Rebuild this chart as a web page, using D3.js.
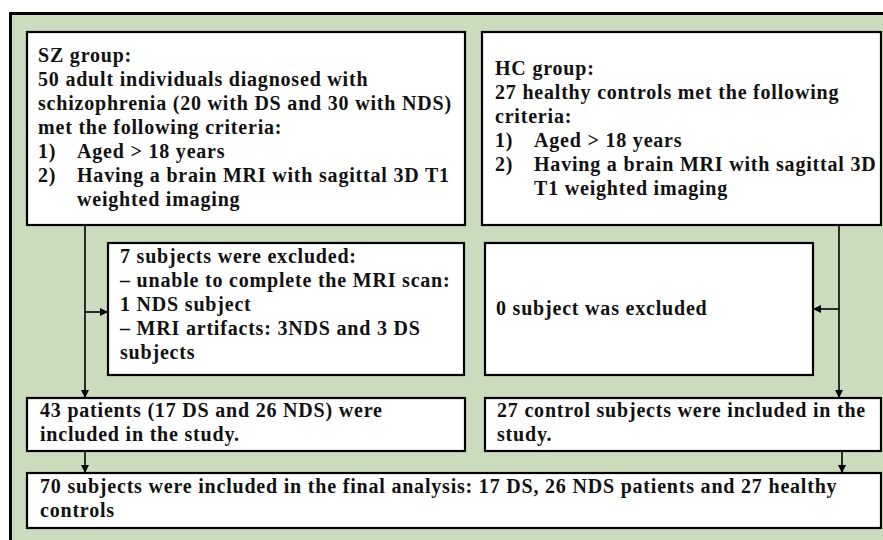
<!DOCTYPE html>
<html>
<head>
<meta charset="utf-8">
<script src="https://cdn.jsdelivr.net/npm/d3@7"></script>
<style>
  body { margin: 0; background: #fff; }
  svg { display: block; }
  .box-text { font-family: "Liberation Serif", "DejaVu Serif", serif; font-weight: bold; font-size: 20px; letter-spacing: 0.8px; fill: #111; }
</style>
</head>
<body>
<div class="chart"></div>
<script>
  /* Box texts: each line is [listNumber or "", text] */
  const szLines = [
    ["", "SZ group:"],
    ["", "50 adult individuals diagnosed with"],
    ["", "schizophrenia (20 with DS and 30 with NDS)"],
    ["", "met the following criteria:"],
    ["1)", "Aged > 18 years"],
    ["2)", "Having a brain MRI with sagittal 3D T1"],
    [" ", "weighted imaging"]
  ];
  const hcLines = [
    ["", "HC group:"],
    ["", "27 healthy controls met the following"],
    ["", "criteria:"],
    ["1)", "Aged > 18 years"],
    ["2)", "Having a brain MRI with sagittal 3D"],
    [" ", "T1 weighted imaging"]
  ];
  const excludedLeftLines = [
    ["", "7 subjects were excluded:"],
    ["", "\u2013 unable to complete the MRI scan:"],
    ["", "1 NDS subject"],
    ["", "\u2013 MRI artifacts: 3NDS and 3 DS"],
    ["", "subjects"]
  ];
  const excludedRightLines = [
    ["", "0 subject was excluded"]
  ];
  const includedLeftLines = [
    ["", "43 patients (17 DS and 26 NDS) were"],
    ["", "included in the study."]
  ];
  const includedRightLines = [
    ["", "27 control subjects were included in the"],
    ["", "study."]
  ];
  const finalLines = [
    ["", "70 subjects were included in the final analysis: 17 DS, 26 NDS patients and 27 healthy"],
    ["", "controls"]
  ];

  const w = 883;
  const h = 540;
  const lineH = 24;
  const indent = 39;

  /* Layout of the boxes (pixels) */
  const boxes = [
    { id: "sz",   x0: 27,  y0: 32,  x1: 465, y1: 225, tx: 38,  ty: 62,  lines: szLines },
    { id: "hc",   x0: 482, y0: 32,  x1: 881, y1: 225, tx: 495, ty: 75,  lines: hcLines },
    { id: "exL",  x0: 108, y0: 243, x1: 464, y1: 375, tx: 120, ty: 263, lines: excludedLeftLines },
    { id: "exR",  x0: 485, y0: 243, x1: 813, y1: 375, tx: 496, ty: 315, lines: excludedRightLines },
    { id: "incL", x0: 27,  y0: 398, x1: 465, y1: 451, tx: 40,  ty: 417, lines: includedLeftLines },
    { id: "incR", x0: 485, y0: 398, x1: 881, y1: 451, tx: 497, ty: 417, lines: includedRightLines },
    { id: "fin",  x0: 27,  y0: 473, x1: 881, y1: 528, tx: 40,  ty: 493, lines: finalLines }
  ];

  /* Connectors: polyline points, arrow at last point */
  const links = [
    [[85, 225], [85, 398]],
    [[85, 312], [108, 312]],
    [[839, 225], [839, 398]],
    [[839, 309], [813, 309]],
    [[85, 451], [85, 473]],
    [[842, 451], [842, 473]]
  ];

  const svg = d3.select(".chart")
    .append("svg")
    .attr("width", w)
    .attr("height", h);

  svg.append("defs").append("marker")
    .attr("id", "arrow")
    .attr("viewBox", "0 0 10 10")
    .attr("refX", 10)
    .attr("refY", 5)
    .attr("markerWidth", 8)
    .attr("markerHeight", 8)
    .attr("markerUnits", "userSpaceOnUse")
    .attr("orient", "auto")
    .append("path")
    .attr("d", "M0,0 L10,5 L0,10 Z")
    .attr("fill", "#000");

  /* Outer green frame */
  svg.append("rect")
    .attr("x", 10.5)
    .attr("y", 13.5)
    .attr("width", w + 20)
    .attr("height", h + 20)
    .attr("fill", "#cadbbe")
    .attr("stroke", "#000")
    .attr("stroke-width", 3);

  const line = d3.line();
  svg.selectAll("path.link")
    .data(links)
    .enter()
    .append("path")
    .attr("class", "link")
    .attr("d", d => line(d))
    .attr("fill", "none")
    .attr("stroke", "#000")
    .attr("stroke-width", 1.6)
    .attr("marker-end", "url(#arrow)");

  const g = svg.selectAll("g.box")
    .data(boxes)
    .enter()
    .append("g")
    .attr("class", "box");

  g.append("rect")
    .attr("x", d => d.x0)
    .attr("y", d => d.y0)
    .attr("width", d => d.x1 - d.x0)
    .attr("height", d => d.y1 - d.y0)
    .attr("fill", "#fff")
    .attr("stroke", "#000")
    .attr("stroke-width", 2.2);

  g.each(function(d) {
    const t = d3.select(this).append("text").attr("class", "box-text");
    d.lines.forEach((ln, i) => {
      const y = d.ty + i * lineH;
      if (ln[0] === "") {
        t.append("tspan").attr("x", d.tx).attr("y", y).text(ln[1]);
      } else {
        if (ln[0].trim() !== "") {
          t.append("tspan").attr("x", d.tx).attr("y", y).text(ln[0]);
        }
        t.append("tspan").attr("x", d.tx + indent).attr("y", y).text(ln[1]);
      }
    });
  });
</script>
</body>
</html>
